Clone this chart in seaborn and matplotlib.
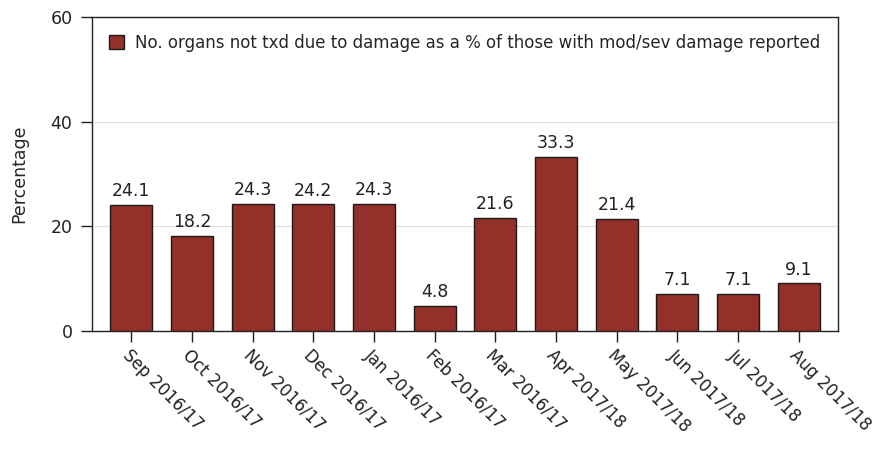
import matplotlib
matplotlib.use("Agg")
import matplotlib.pyplot as plt
import seaborn as sns
import pandas as pd

months = ["Sep 2016/17", "Oct 2016/17", "Nov 2016/17", "Dec 2016/17", "Jan 2016/17",
          "Feb 2016/17", "Mar 2016/17", "Apr 2017/18", "May 2017/18", "Jun 2017/18",
          "Jul 2017/18", "Aug 2017/18"]
pct = [24.1, 18.2, 24.3, 24.2, 24.3, 4.8, 21.6, 33.3, 21.4, 7.1, 7.1, 9.1]
series_label = "No. organs not txd due to damage as a % of those with mod/sev damage reported"
yticks = [0, 20, 40, 60]

df = pd.DataFrame({"month": months, "pct": pct})

sns.set_style("white")
plt.rcParams['font.family'] = ['DejaVu Sans']

fig = plt.figure(figsize=(8.81, 4.51), dpi=100)
ax = fig.add_axes([92 / 881, 1 - 331 / 451, (838 - 92) / 881, (331 - 17) / 451])

bar_color = "#93302a"
sns.barplot(data=df, x="month", y="pct", color=bar_color, width=0.69,
            edgecolor="#1a1a1a", linewidth=1.0, saturation=1, ax=ax,
            label=series_label, zorder=3)

for i, v in enumerate(pct):
    ax.text(i, v + 0.9, f"{v:.1f}", ha="center", va="bottom", fontsize=12.5, color="#222222")

ax.set_ylim(0, 60)
ax.set_yticks(yticks)
ax.set_xlim(-0.65, len(months) - 0.35)
ax.yaxis.grid(True, color="#dddddd", linewidth=0.8, zorder=0)
ax.set_axisbelow(True)
ax.tick_params(axis="both", direction="out", length=8, width=1, colors="#222222",
               labelsize=12.5, bottom=True, left=True, pad=3)
ax.tick_params(axis="y", pad=6)
ax.set_xticks(range(len(months)))
ax.set_xticklabels(months, rotation=-45, ha="left", va="top", rotation_mode="anchor",
                   fontsize=12)
ax.set_xlabel("")
ax.set_ylabel("Percentage", fontsize=12.5, labelpad=16)
for s in ax.spines.values():
    s.set_color("#222222")
    s.set_linewidth(1.0)

leg = ax.legend(loc="upper left", frameon=False, fontsize=12, handlelength=0.9,
                handleheight=0.9, borderaxespad=0.5, handletextpad=0.7,
                borderpad=0.5)

fig.savefig("out.png", dpi=100)
